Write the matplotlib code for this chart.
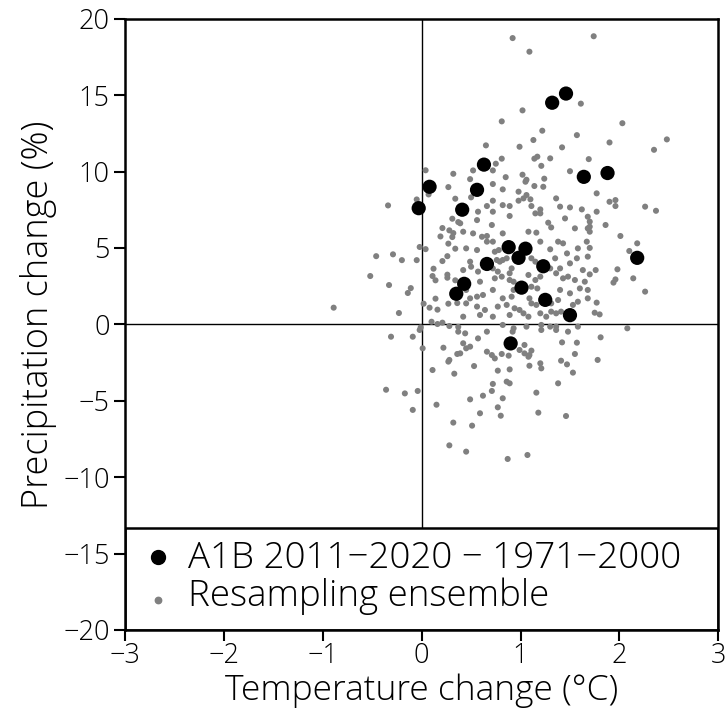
import matplotlib
matplotlib.use("Agg")
import matplotlib.pyplot as plt
from matplotlib.patches import Rectangle
from matplotlib import font_manager

# ---- data ----
a1b_temp = [-0.03, 0.08, 0.41, 0.56, 0.63, 1.32, 1.46, 1.64, 1.88, 2.18,
            0.88, 1.05, 0.98, 0.66, 1.23, 0.43, 0.35, 1.01, 1.25, 1.50, 0.90]
a1b_prec = [7.6, 9.0, 7.5, 8.8, 10.45, 14.5, 15.1, 9.65, 9.9, 4.35,
            5.05, 4.95, 4.35, 3.95, 3.8, 2.65, 2.0, 2.4, 1.6, 0.6, -1.25]

ens_temp = [
    0.04, 0.32,
    0.92, 1.09, 1.61, 1.02, 0.81, 1.22, 1.13, 1.57, 0.65, 0.99, 1.42, 0.81, 1.14, 1.17,
    1.30, 1.69, 0.75, 0.52, 0.72, 1.21, 1.50, 0.85, 1.02, 1.06, 1.24, 0.49,
    1.74, 2.03, 1.90, 2.48, 2.35,
    0.27, 0.34, -0.05, 0.07, -0.34, 0.31, 0.37, 0.21, 0.28, 0.32, 0.31, 0.19, 0.27, 0.34,
    -0.02, 0.04, -0.46, -0.29, -0.20, -0.05, 0.26, 0.21, 0.12, -0.52, 0.11, 0.26, 0.26,
    0.14, -0.33, 0.34, -0.11, -0.14, 0.14, 0.02, 0.08, 0.16, 0.27, 0.36, -0.89, -0.23,
    -0.01, 0.10, 0.16, 0.21, 0.28, 0.37,
    0.72, 1.05, 1.14, 1.23, 0.98, 0.82, 1.06, 0.50, 0.72, 0.98, 1.03, 1.10, 1.36, 0.66,
    0.82, 0.89, 1.11, 1.20, 1.40, 1.50, 1.62, 0.57, 0.72, 0.89, 1.15, 1.20, 1.28, 1.45,
    1.68, 0.71, 0.39, 0.56, 0.52, 0.61, 0.66, 0.82, 1.08, 1.16, 1.31, 1.55, 1.68, 0.42,
    0.66, 0.72, 0.74, 0.78, 0.45, 0.56, 1.20, 1.38, 1.43, 1.58, 1.67, 1.30, 1.47, 0.49,
    0.76, 0.79, 0.82, 0.86, 1.11, 1.15, 1.35, 1.57, 1.68, 1.50, 1.40, 1.30, 0.42, 0.57,
    0.50, 0.72, 0.77, 0.89, 0.91, 0.81, 1.08, 1.15, 1.20, 1.36, 1.43, 1.48, 1.55, 1.65,
    1.63, 0.59, 0.74, 0.89, 0.93, 1.11, 1.17, 1.40, 1.60, 1.68, 1.68, 1.50, 0.72, 0.62,
    0.56, 0.82, 0.91, 0.93, 0.49, 0.45, 1.09, 1.11, 1.16, 1.31, 1.38, 1.58, 0.77, 0.86,
    0.94, 0.99, 1.03, 0.56, 0.64, 0.45, 1.53, 1.41, 1.36, 1.31, 0.72, 0.89, 1.08, 1.20,
    1.26, 0.42, 0.59, 0.82, 1.21, 1.30, 1.36, 1.06, 0.93, 1.58,
    1.77, 1.90, 1.96, 1.96, 2.26, 2.37, 1.77, 1.70, 1.70, 1.70, 1.86, 2.01, 2.18, 2.10,
    1.70, 1.76, 1.98, 1.96, 1.94, 2.14, 2.26, 1.70, 1.77, 1.75, 1.80, 2.08,
    1.81, 1.78,
    -0.31, -0.09, -0.02, 0.01, 0.22, 0.36, 0.27, 0.28, 0.33, 0.11, -0.36, -0.17, -0.04,
    -0.09, 0.15, 0.32, 0.28, 0.37,
    0.44, 0.57, 0.66, 0.42, 0.49, 0.45, 0.39, 0.66, 0.71, 0.74, 0.81, 0.88, 0.92, 1.04,
    0.99, 1.04, 1.09, 1.11, 1.08, 1.21, 1.36, 1.48, 1.42, 1.57, 1.55, 1.41, 1.47, 1.53,
    1.20, 1.21, 1.09, 0.89, 0.77, 0.53, 0.86, 0.89, 0.72, 0.71, 0.62, 0.49, 0.82, 1.16,
    1.38, 0.77, 0.59, 0.80, 1.18, 1.46, 0.51, 0.45, 0.87, 1.07,
]
ens_prec = [
    10.08, 9.85,
    18.73, 17.84, 14.44, 14.0, 13.28, 12.67, 12.06, 12.38, 11.71, 11.62, 11.58, 10.84, 10.84, 10.97,
    10.86, 10.81, 10.51, 10.07, 10.07, 10.37, 10.02, 9.63, 9.79, 9.46, 9.53, 9.5,
    18.85, 13.16, 11.9, 12.1, 11.42,
    8.98, 8.22, 8.17, 8.5, 7.78, 6.91, 6.69, 6.3, 6.15, 5.97, 5.71, 5.75, 5.28, 4.95,
    5.06, 4.92, 4.46, 4.58, 4.2, 4.2, 4.46, 4.14, 3.64, 3.16, 3.16, 3.25, 3.05,
    2.88, 2.57, 2.88, 2.37, 2.05, 1.68, 1.35, 1.09, 0.96, 1.35, 1.39, 1.09, 0.74,
    -0.2, 0.17, 0.02, 0.11, -0.11, -0.17,
    9.18, 9.33, 9.05, 9.0, 8.68, 8.83, 8.46, 8.31, 8.09, 8.09, 8.24, 8.18, 8.24, 7.74,
    7.8, 7.74, 7.74, 7.52, 7.7, 7.65, 7.52, 7.37, 7.37, 7.09, 7.26, 7.26, 6.65, 6.93,
    7.04, 6.5, 6.61, 6.82, 5.95, 5.73, 5.78, 5.95, 6.06, 6.0, 6.34, 6.28, 6.28, 6.06,
    5.41, 5.41, 4.75, 4.86, 4.97, 4.86, 5.41, 5.41, 5.3, 4.97, 5.41, 4.91, 4.64, 4.1,
    4.21, 4.1, 4.21, 4.32, 4.32, 4.1, 4.32, 4.32, 4.43, 3.99, 3.66, 3.66, 3.55, 3.45,
    3.77, 3.66, 3.45, 3.34, 3.66, 3.12, 3.23, 2.9, 3.12, 3.34, 3.01, 3.12, 2.9, 2.79,
    3.55, 2.79, 3.01, 2.9, 2.79, 2.46, 2.35, 2.25, 2.35, 2.25, 1.7, 2.03, 2.25, 1.92,
    1.81, 1.7, 1.81, 2.25, 1.7, 2.25, 1.7, 1.37, 1.27, 1.37, 1.59, 1.48, 1.16, 1.27,
    1.05, 0.94, 0.72, 1.16, 0.94, 1.37, 1.27, 0.83, 0.72, 0.83, 0.5, 0.61, 0.5, 0.72,
    0.5, 0.5, 0.61, -0.04, -0.04, -0.15, -0.15, -0.15, -0.26, -0.15,
    8.57, 8.02, 8.13, 7.74, 7.7, 7.43, 7.37, 6.72, 6.39, 6.06, 6.5, 5.78, 5.3, 4.8,
    5.0, 3.55, 3.6, 2.94, 2.73, 3.01, 2.14, 3.27, 1.42, 0.76, 0.65, -0.26,
    -0.85, -2.33,
    -0.81, -0.81, -0.37, -1.57, -1.53, -1.94, -2.44, -2.33, -3.23, -2.99, -4.28, -4.52, -4.36,
    -5.6, -5.26, -6.43, -7.92, -0.48,
    -0.59, -0.92, -0.48, -1.24, -1.46, -1.57, -1.9, -1.79, -2.01, -2.23, -1.94, -2.05, -0.48, -1.35,
    -1.68, -1.9, -2.01, -1.72, -2.12, -0.37, -0.37, -0.48, -1.18, -1.2, -1.94, -2.38, -2.62, -3.16,
    -2.55, -2.88, -2.71, -2.95, -3.03, -2.73, -3.75, -3.86, -3.9, -4.36, -4.67, -4.91, -4.84, -4.47,
    -3.86, -5.43, -5.82, -5.98, -5.78, -6.0, -6.63, -8.33, -8.81, -8.55,
]

x_ticks = [-3, -2, -1, 0, 1, 2, 3]
y_ticks = [-20, -15, -10, -5, 0, 5, 10, 15, 20]
x_label = "Temperature change (°C)"
y_label = "Precipitation change (%)"
legend_labels = ["A1B 2011\u22122020 \u2212 1971\u22122000", "Resampling ensemble"]

# ---- fonts ----
names = {f.name for f in font_manager.fontManager.ttflist}
chosen = "DejaVu Sans"
for cand in ["Open Sans", "Roboto", "Lato"]:
    if cand in names:
        chosen = cand
        break
plt.rcParams["font.family"] = [chosen, "DejaVu Sans"]
plt.rcParams["font.weight"] = 300
plt.rcParams["axes.labelweight"] = 300

fig = plt.figure(figsize=(7.27, 7.10), dpi=100)
ax = fig.add_axes([0.172, 0.1127, 0.816, 0.861])

ax.set_xlim(-3, 3)
ax.set_ylim(-20, 20)

ax.axvline(0, color="black", lw=1.0, zorder=1)
ax.axhline(0, color="black", lw=1.0, zorder=1)

ax.scatter(ens_temp, ens_prec, s=19, color="#808080", edgecolors="none", zorder=2)
ax.scatter(a1b_temp, a1b_prec, s=105, color="black", edgecolors="none", zorder=3)

# legend box
leg_h = 0.167
ax.add_patch(Rectangle((0, 0), 1, leg_h, transform=ax.transAxes, facecolor="white",
                       edgecolor="black", lw=1.8, zorder=5))
ax.plot([0.056], [0.119], marker="o", ms=10, color="black", transform=ax.transAxes,
        zorder=6, clip_on=False)
ax.plot([0.056], [0.049], marker="o", ms=4.6, color="#808080", transform=ax.transAxes,
        zorder=6, clip_on=False)
ax.text(0.106, 0.101, legend_labels[0], transform=ax.transAxes, fontsize=26.5,
        va="baseline", ha="left", zorder=7)
ax.text(0.106, 0.039, legend_labels[1], transform=ax.transAxes, fontsize=26.5,
        va="baseline", ha="left", zorder=7)

ax.set_xticks(x_ticks)
ax.set_yticks(y_ticks)
ax.tick_params(direction="out", length=8, width=1.5, labelsize=19.5, top=False, right=False)
ax.tick_params(axis="x", pad=1)
ax.tick_params(axis="y", pad=3)
for s in ax.spines.values():
    s.set_linewidth(1.8)
    s.set_zorder(8)

ax.set_xlabel(x_label, fontsize=25.5)
ax.set_ylabel(y_label, fontsize=26)
ax.xaxis.set_label_coords(0.5, -0.071)
ax.yaxis.set_label_coords(-0.114, 0.515)

fig.savefig("out.png", dpi=100)
